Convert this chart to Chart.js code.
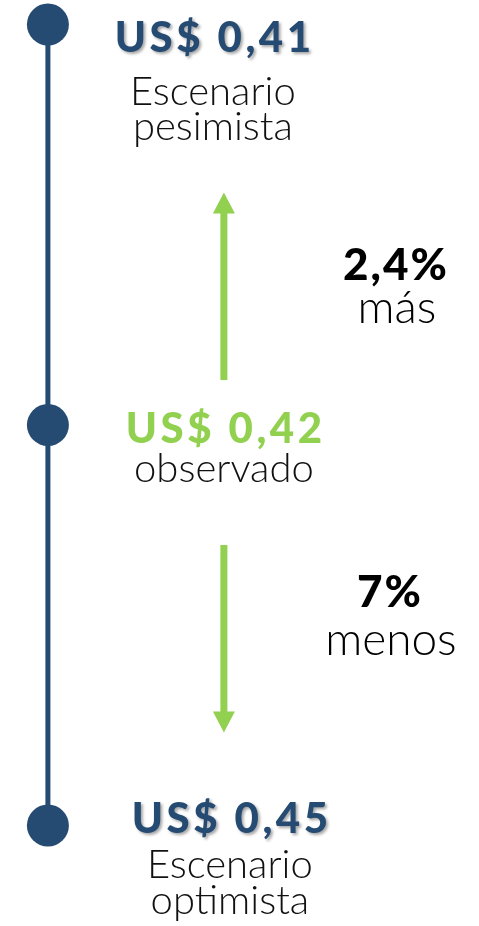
<!DOCTYPE html>
<html>
<head>
<meta charset="utf-8">
<script src="https://cdn.jsdelivr.net/npm/chart.js@4"></script>
<style>
  html, body { margin: 0; padding: 0; background: #fff; }
  #wrap { width: 479px; height: 926px; position: relative; }
</style>
</head>
<body>
<div id="wrap"><canvas id="escenarios"></canvas></div>
<script>
// valores del gráfico
const niveles = ['Escenario pesimista', 'observado', 'Escenario optimista'];
const precios = [0.41, 0.42, 0.45];
const descripciones = [['Escenario', 'pesimista'], ['observado'], ['Escenario', 'optimista']];
const cambios = ['2,4%', '7%'];
const cambiosTexto = ['más', 'menos'];
const direcciones = ['up', 'down'];

const AZUL = '#254b73';
const VERDE = '#92d050';

const etiquetaPrecio = p => 'US$ ' + p.toFixed(2).replace('.', ',');

// offsets de las etiquetas respecto a cada punto
const layoutNiveles = [
    { dx: 165, dyValor: 27, lineas: [80, 115] },
    { dx: 176, dyValor: 18, lineas: [57] },
    { dx: 182, dyValor: 7, lineas: [52, 88] }
];
const layoutCambios = [
    { dx: 347, dyPct: -6, dyTxt: 37 },
    { dx: 341, dyPct: -32, dyTxt: 16 }
];

function texto(ctx, t, x, y, ls) {
    ctx.letterSpacing = ls + 'px';
    ctx.fillText(t, x + ls / 2, y);
    ctx.letterSpacing = '0px';
}

const etiquetas = {
    id: 'etiquetas',
    afterDatasetsDraw(chart) {
        const ctx = chart.ctx;
        const xs = chart.scales.x, ys = chart.scales.y;
        const x0 = xs.getPixelForValue(0);
        ctx.save();
        ctx.textAlign = 'center';
        ctx.textBaseline = 'alphabetic';

        niveles.forEach((n, i) => {
            const cy = ys.getPixelForValue(i);
            const lay = layoutNiveles[i];
            const cx = x0 + lay.dx;
            ctx.save();
            ctx.font = '900 42px Lato';
            ctx.fillStyle = i === 1 ? VERDE : AZUL;
            if (i !== 1) {
                ctx.shadowColor = 'rgba(0,0,0,0.35)';
                ctx.shadowBlur = 3;
                ctx.shadowOffsetX = 2;
                ctx.shadowOffsetY = 2;
            }
            texto(ctx, etiquetaPrecio(precios[i]), cx, cy + lay.dyValor, 3.5);
            ctx.restore();
            ctx.font = '300 40px Lato';
            ctx.fillStyle = '#111';
            descripciones[i].forEach((t, k) => ctx.fillText(t, cx, cy + lay.lineas[k]));
        });

        // flechas entre niveles
        cambios.forEach((c, i) => {
            const yA = ys.getPixelForValue(i);
            const yB = ys.getPixelForValue(i + 1);
            const ax = x0 + 176;
            let tail, tip;
            if (direcciones[i] === 'up') { tail = yB - 45; tip = yA + 168; }
            else { tail = yA + 120; tip = yB - 93; }
            const s = tip < tail ? 1 : -1;
            ctx.fillStyle = VERDE;
            ctx.fillRect(ax - 3.5, Math.min(tail, tip + s * 20), 7, Math.abs(tail - (tip + s * 20)));
            ctx.beginPath();
            ctx.moveTo(ax, tip);
            ctx.lineTo(ax - 11, tip + s * 21);
            ctx.lineTo(ax + 11, tip + s * 21);
            ctx.closePath();
            ctx.fill();

            const mid = (tail + tip) / 2;
            const lay = layoutCambios[i];
            ctx.fillStyle = '#000';
            ctx.font = '900 44px Lato';
            texto(ctx, c, x0 + lay.dx, mid + lay.dyPct, 2);
            ctx.font = '300 46px Lato';
            ctx.fillText(cambiosTexto[i], x0 + lay.dx + 2, mid + lay.dyTxt);
        });
        ctx.restore();
    }
};

new Chart(document.getElementById('escenarios'), {
    type: 'scatter',
    data: {
        datasets: [{
            data: niveles.map((n, i) => ({ x: 0, y: i })),
            showLine: true,
            borderColor: AZUL,
            borderWidth: 5,
            pointRadius: 21,
            pointHoverRadius: 21,
            pointBackgroundColor: AZUL,
            pointBorderWidth: 0,
            clip: false
        }]
    },
    options: {
        responsive: true,
        maintainAspectRatio: false,
        animation: false,
        layout: { padding: 0, autoPadding: false },
        plugins: { legend: { display: false }, tooltip: { enabled: false } },
        scales: {
            x: { display: false, min: -47.9 / 479 * 10, max: 10 - 47.9 / 479 * 10 },
            y: { display: false, reverse: true, min: -0.0612, max: 2.2509 }
        }
    },
    plugins: [etiquetas]
});
</script>
</body>
</html>
